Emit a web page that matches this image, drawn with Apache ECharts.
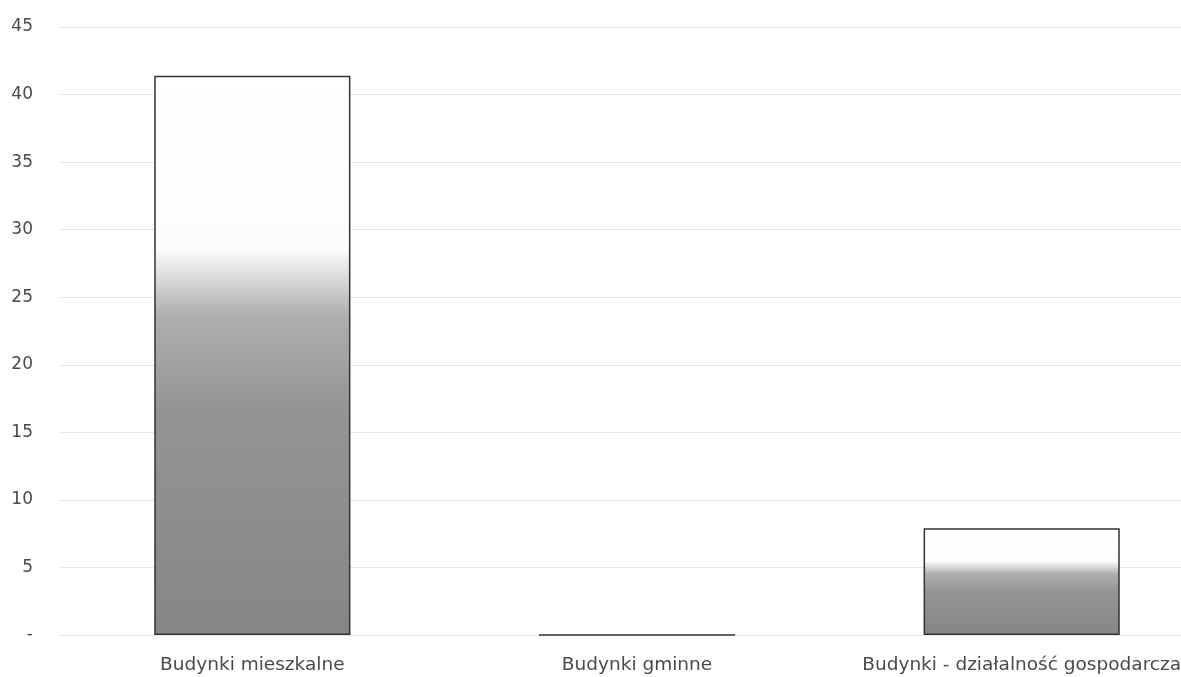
<!DOCTYPE html>
<html>
<head>
<meta charset="utf-8">
<script src="https://cdn.jsdelivr.net/npm/echarts@6/dist/echarts.min.js"></script>
<style>html,body{margin:0;padding:0;background:#fff;overflow:hidden;width:1181px;height:677px;}#c{width:1214px;height:677px;}</style>
</head>
<body>
<div id="c"></div>
<script>
const categories = ['Budynki mieszkalne', 'Budynki gminne', 'Budynki - działalność gospodarcza'];
const values = [41.4, 0, 7.9];
const yTicks = { min: 0, max: 45, interval: 5 };

const chart = echarts.init(document.getElementById('c'), null, { renderer: 'canvas' });
const barFill = new echarts.graphic.LinearGradient(0, 0, 0, 1, [
  { offset: 0, color: '#ffffff' },
  { offset: 0.31, color: '#fcfcfc' },
  { offset: 0.43, color: '#aeaeae' },
  { offset: 0.6, color: '#949494' },
  { offset: 1, color: '#868686' }
]);
chart.setOption({
  animation: false,
  backgroundColor: '#ffffff',
  grid: { left: 60, right: 0, top: 27, bottom: 42, containLabel: false },
  xAxis: {
    type: 'category',
    data: categories,
    axisLine: { show: true, lineStyle: { color: '#e6e6e6', width: 1 } },
    axisTick: { show: false },
    axisLabel: { color: '#4a4a4a', fontFamily: 'DejaVu Sans', fontSize: 18.5, margin: 21, interval: 0 }
  },
  yAxis: {
    type: 'value',
    min: yTicks.min, max: yTicks.max, interval: yTicks.interval,
    axisLine: { show: false },
    axisTick: { show: false },
    splitLine: { show: true, lineStyle: { color: '#e6e6e6', width: 1 } },
    axisLabel: {
      color: '#4a4a4a', fontFamily: 'DejaVu Sans', fontSize: 17, margin: 27,
      formatter: v => v === 0 ? '-' : String(v)
    }
  },
  series: [{
    type: 'bar',
    data: values,
    barWidth: '51%',
    itemStyle: { color: barFill, borderColor: '#333333', borderWidth: 1.5 }
  }]
});
</script>
</body>
</html>
